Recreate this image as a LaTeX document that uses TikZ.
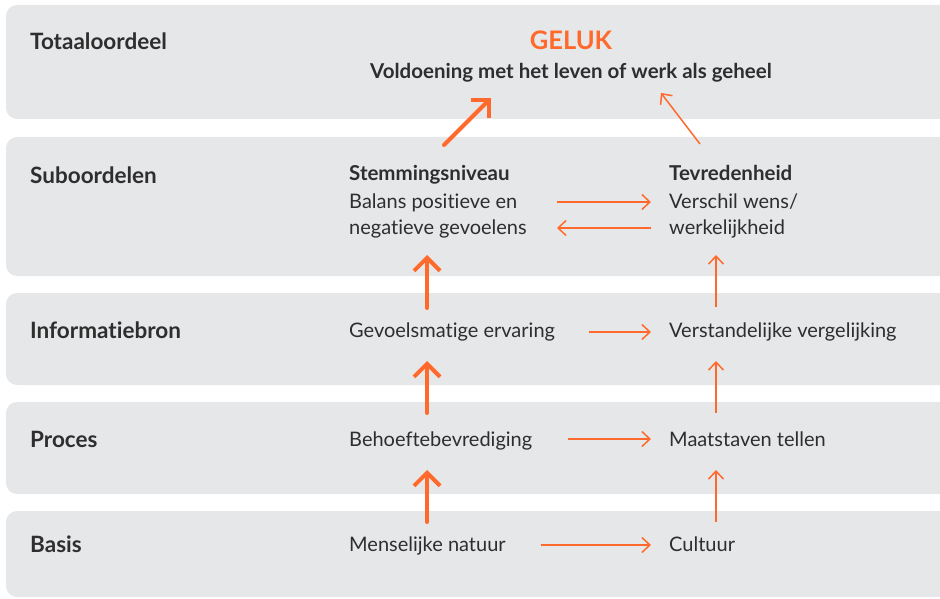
\documentclass[tikz,border=0pt]{standalone}
\usepackage{fontspec}
\setmainfont[Ligatures=NoCommon]{Lato}
\usetikzlibrary{arrows.meta}
\definecolor{panelgray}{HTML}{E6E7E9}
\definecolor{accent}{HTML}{FF6A2C}
\definecolor{ink}{HTML}{2E2E2E}
\tikzset{
  panel/.style={fill=panelgray, draw=none, rounded corners=11pt},
  rowlabel/.style={anchor=base west, inner sep=0pt, text=ink, font=\fontsize{22.5}{26}\selectfont\bfseries},
  body/.style={anchor=base west, inner sep=0pt, text=ink, font=\fontsize{20}{24}\selectfont},
  bodybold/.style={anchor=base west, inner sep=0pt, text=ink, font=\fontsize{20.5}{24}\selectfont\bfseries},
  thickarr/.style={draw=accent, line width=4pt, line cap=round, -{Straight Barb[length=13pt,width=26pt,line width=4pt]}},
  thinarr/.style={draw=accent, line width=1.5pt, -{Straight Barb[length=8pt,width=15pt,line width=1.5pt]}},
}
\begin{document}
\begin{tikzpicture}[x=1pt,y=-1pt]
\useasboundingbox (0,0) rectangle (940,599);
\clip (0,0) rectangle (940,599);
% panels
\fill[panel] (6,5) rectangle (980,119);
\fill[panel] (6,137) rectangle (980,276);
\fill[panel] (6,293) rectangle (980,385);
\fill[panel] (6,402) rectangle (980,494);
\fill[panel] (6,511) rectangle (980,597);
% row labels
\node[rowlabel] (lTot) at (30,50) {Totaaloordeel};
\node[rowlabel] (lSub) at (30,183) {Suboordelen};
\node[rowlabel] (lInf) at (30,338) {Informatiebron};
\node[rowlabel] (lPro) at (30,447) {Proces};
\node[rowlabel] (lBas) at (30,552) {Basis};
% top
\node[anchor=base, inner sep=0pt, text=accent, font=\fontsize{25.5}{28}\selectfont\bfseries] (geluk) at (571,50) {GELUK};
\node[anchor=base, inner sep=0pt, text=ink, font=\fontsize{20.5}{24}\selectfont\bfseries] (voldoening) at (571,79) {Voldoening met het leven of werk als geheel};
% column 1
\node[bodybold] (stem) at (349,180) {Stemmingsniveau};
\node[body] (balans1) at (349,208) {Balans positieve en};
\node[body] (balans2) at (349,234) {negatieve gevoelens};
\node[body] (gevoel) at (349,337) {Gevoelsmatige ervaring};
\node[body] (behoefte) at (349,446) {Behoeftebevrediging};
\node[body] (mens) at (349,551) {Menselijke natuur};
% column 2
\node[bodybold] (tevr) at (669,180) {Tevredenheid};
\node[body] (versch1) at (669,208) {Verschil wens/};
\node[body] (versch2) at (669,234) {werkelijkheid};
\node[body] (verst) at (669,337) {Verstandelijke vergelijking};
\node[body] (maat) at (669,446) {Maatstaven tellen};
\node[body] (cult) at (669,551) {Cultuur};
% arrow endpoints
\coordinate (a1s) at (444,145); \coordinate (a1e) at (491,98);
\coordinate (a2s) at (700,144); \coordinate (a2e) at (661,93);
\coordinate (h1s) at (557,202); \coordinate (h1e) at (651,202);
\coordinate (h2s) at (651,228); \coordinate (h2e) at (557,228);
\coordinate (v1s) at (427,308); \coordinate (v1e) at (427,255);
\coordinate (v2s) at (427,413); \coordinate (v2e) at (427,361);
\coordinate (v3s) at (427,522); \coordinate (v3e) at (427,470);
\coordinate (w1s) at (716,307); \coordinate (w1e) at (716,255);
\coordinate (w2s) at (716,413); \coordinate (w2e) at (716,361);
\coordinate (w3s) at (716,522); \coordinate (w3e) at (716,470);
\coordinate (h3s) at (589,332); \coordinate (h3e) at (651,332);
\coordinate (h4s) at (568,439); \coordinate (h4e) at (651,439);
\coordinate (h5s) at (541,545); \coordinate (h5e) at (651,545);
% arrows
\draw[thickarr] (a1s) -- (a1e);
\draw[thinarr] (a2s) -- (a2e);
\draw[thinarr] (h1s) -- (h1e);
\draw[thinarr] (h2s) -- (h2e);
\draw[thickarr] (v1s) -- (v1e);
\draw[thickarr] (v2s) -- (v2e);
\draw[thickarr] (v3s) -- (v3e);
\draw[thinarr] (w1s) -- (w1e);
\draw[thinarr] (w2s) -- (w2e);
\draw[thinarr] (w3s) -- (w3e);
\draw[thinarr] (h3s) -- (h3e);
\draw[thinarr] (h4s) -- (h4e);
\draw[thinarr] (h5s) -- (h5e);
\end{tikzpicture}
\end{document}
